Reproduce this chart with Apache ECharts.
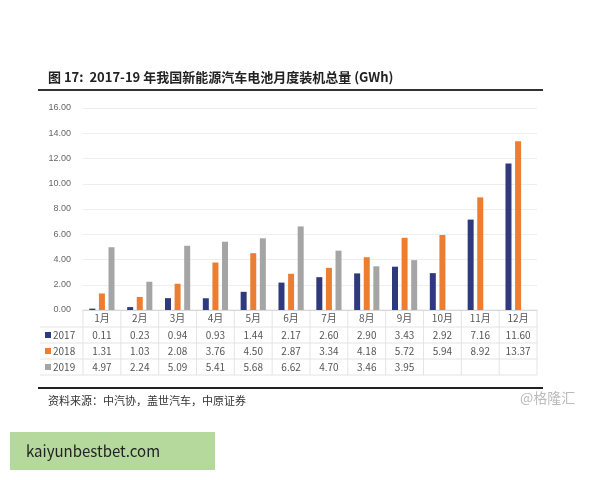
<!DOCTYPE html>
<html><head><meta charset="utf-8">
<script src="https://cdn.jsdelivr.net/npm/echarts@6/dist/echarts.min.js"></script>
<style>body{margin:0;background:#fff}#main{width:600px;height:480px}</style>
</head><body><div id="main"></div>
<script>
var months = ['1月','2月','3月','4月','5月','6月','7月','8月','9月','10月','11月','12月'];
var years = ['2017','2018','2019'];
var v2017 = [0.11,0.23,0.94,0.93,1.44,2.17,2.60,2.90,3.43,2.92,7.16,11.60];
var v2018 = [1.31,1.03,2.08,3.76,4.50,2.87,3.34,4.18,5.72,5.94,8.92,13.37];
var v2019 = [4.97,2.24,5.09,5.41,5.68,6.62,4.70,3.46,3.95];
var colors = ['#2f3a7e','#ed7d31','#a5a5a5'];

var myChart = echarts.init(document.getElementById('main'));
var gl = 83, gr = 537, gt = 108, gb = 310;
var colW = (gr - gl) / months.length;
var font = '"Noto Sans CJK SC", sans-serif';
var rows = [v2017, v2018, v2019];
var g = [];
// table grid lines
var rowY = [310, 327, 343, 359, 375];
rowY.forEach(function (y, i) {
    g.push({type: 'line', shape: {x1: i == 0 ? gl : 40, y1: y, x2: gr, y2: y}, style: {stroke: '#e4e4e4', lineWidth: 1}});
});
for (var c = 0; c <= months.length; c++) {
    g.push({type: 'line', shape: {x1: gl + c * colW, y1: 310, x2: gl + c * colW, y2: 375}, style: {stroke: '#e4e4e4', lineWidth: 1}});
}
months.forEach(function (m, i) {
    g.push({type: 'text', x: gl + (i + 0.5) * colW, y: 318, style: {text: m, fill: '#555', font: '10px ' + font, align: 'center', verticalAlign: 'middle'}});
});
rows.forEach(function (arr, r) {
    var y = 335 + r * 16;
    g.push({type: 'rect', shape: {x: 45, y: y - 3, width: 6, height: 6}, style: {fill: colors[r]}});
    g.push({type: 'text', x: 53, y: y, style: {text: years[r], fill: '#555', font: '10px ' + font, verticalAlign: 'middle'}});
    arr.forEach(function (v, i) {
        g.push({type: 'text', x: gl + (i + 0.5) * colW, y: y, style: {text: v.toFixed(2), fill: '#555', font: '10px ' + font, align: 'center', verticalAlign: 'middle'}});
    });
});
// title, rules, source
g.push({type: 'text', x: 48, y: 77, style: {text: '图 17:  2017-19 年我国新能源汽车电池月度装机总量 (GWh)', fill: '#222', font: 'bold 13px ' + font, verticalAlign: 'middle'}});
g.push({type: 'line', shape: {x1: 38, y1: 90, x2: 543, y2: 90}, style: {stroke: '#333', lineWidth: 2}});
g.push({type: 'line', shape: {x1: 38, y1: 388, x2: 543, y2: 388}, style: {stroke: '#222', lineWidth: 2}});
g.push({type: 'text', x: 48, y: 401, style: {text: '资料来源：中汽协，盖世汽车，中原证券', fill: '#333', font: '11px ' + font, verticalAlign: 'middle'}});
g.push({type: 'text', x: 520, y: 398, style: {text: '@格隆汇', fill: '#bbb', font: '14px ' + font, verticalAlign: 'middle'}});
g.push({type: 'rect', shape: {x: 10, y: 432, width: 205, height: 38}, style: {fill: '#b5d99c'}});
g.push({type: 'text', x: 26, y: 451, style: {text: 'kaiyunbestbet.com', fill: '#222', font: '15px ' + font, verticalAlign: 'middle'}});

option = {
    backgroundColor: '#fff',
    animation: false,
    grid: {left: gl, right: 600 - gr, top: gt, bottom: 480 - gb},
    xAxis: {type: 'category', data: months, axisLabel: {show: false}, axisTick: {show: false},
        axisLine: {lineStyle: {color: '#d9d9d9'}}},
    yAxis: {type: 'value', min: 0, max: 16, interval: 2,
        axisLabel: {formatter: function (v) { return v.toFixed(2); }, color: '#666', fontSize: 9, margin: 12},
        splitLine: {lineStyle: {color: '#eeeeee'}}, axisLine: {show: false}, axisTick: {show: false}},
    series: rows.map(function (arr, r) {
        return {name: years[r], type: 'bar', data: arr, barWidth: 6, barGap: '60%', itemStyle: {color: colors[r]}};
    }),
    graphic: g
};
myChart.setOption(option);
</script></body></html>
